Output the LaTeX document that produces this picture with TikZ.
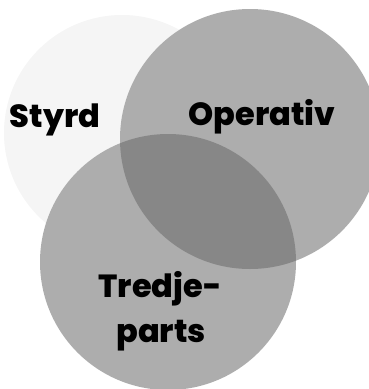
\documentclass[tikz,border=0pt]{standalone}
\usepackage{fontspec}
\setmainfont{Poppins}[BoldFont={Poppins ExtraBold}]
\begin{document}
\begin{tikzpicture}[x=1pt,y=-1pt,
  lbl/.style={font=\fontsize{32}{45}\selectfont\bfseries, text=black, inner sep=0pt, anchor=base},
  faint/.style={fill=black!4, draw=none},
  ring/.style={fill=black!32, draw=none},
  lens/.style={fill=black!47, draw=none}]
\useasboundingbox (0,0) rectangle (369,389);
\begin{scope}
\clip (0,0) rectangle (369,389);
\fill[faint] (122,133) circle (118);
\fill[ring] (250,139) circle (130);
\fill[ring] (168,262) circle (128);
\begin{scope}
\clip (250,139) circle (130);
\fill[lens] (168,262) circle (128);
\end{scope}
\end{scope}
\node[lbl] (styrd) at (55,127) {Styrd};
\node[lbl] (operativ) at (262,125) {Operativ};
\node[lbl] (tredje) at (160,297) {Tredje-};
\node[lbl] (parts) at (161,342) {parts};
\end{tikzpicture}
\end{document}
